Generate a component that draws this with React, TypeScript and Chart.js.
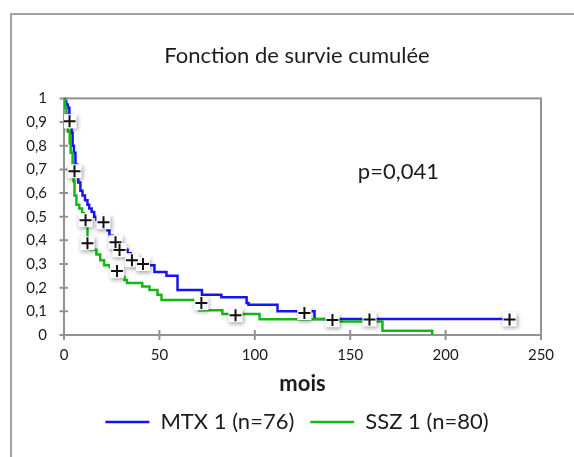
import React, { useEffect, useRef } from 'react';
import { Chart, registerables } from 'chart.js';

Chart.register(...registerables);

// ---- texts ----
const chartTitle = 'Fonction de survie cumulée';
const xAxisTitle = 'mois';
const pValueText = 'p=0,041';
const pValueX = 154;
const pValueY = 0.69;

// ---- ticks ----
const xTickValues = [0, 50, 100, 150, 200, 250];
const yTickValues = [0, 0.1, 0.2, 0.3, 0.4, 0.5, 0.6, 0.7, 0.8, 0.9, 1];
const yTickLabels = ['0', '0,1', '0,2', '0,3', '0,4', '0,5', '0,6', '0,7', '0,8', '0,9', '1'];

// ---- MTX 1 (n=76) ----
const mtxLabel = 'MTX 1 (n=76)';
const mtxTimes = [0, 0.5, 1.2, 2, 2.8, 3.2, 4, 4.5, 5.2, 6, 7, 7.5, 8.6, 9.7, 11, 12.3, 13.2, 14.5, 15.8, 17, 22, 22.8, 23.8, 25.5, 28, 30, 33.3, 35, 36, 39, 43, 47.4, 53.7, 59.5, 72.3, 82.5, 95.7, 96.7, 111.9, 131.3, 233.5];
const mtxSurvival = [1, 0.987, 0.974, 0.96, 0.92, 0.895, 0.855, 0.8, 0.77, 0.72, 0.68, 0.645, 0.61, 0.59, 0.57, 0.55, 0.535, 0.52, 0.5, 0.487, 0.46, 0.443, 0.42, 0.4, 0.38, 0.36, 0.345, 0.33, 0.318, 0.305, 0.295, 0.266, 0.25, 0.19, 0.17, 0.16, 0.135, 0.128, 0.1, 0.068, 0.068];
const mtxCensorTimes = [2.9, 20.7, 27, 29.1, 35.6, 41.4, 126, 160.1, 233.5];
const mtxCensorSurvival = [0.903, 0.477, 0.392, 0.359, 0.316, 0.3, 0.093, 0.066, 0.066];

// ---- SSZ 1 (n=80) ----
const sszLabel = 'SSZ 1 (n=80)';
const sszTimes = [0, 0.5, 1.3, 2, 3, 3.5, 4.5, 5, 5.5, 6.5, 8, 9.5, 10.5, 12.3, 14, 17, 19, 21, 24, 25, 30, 31.7, 33, 41, 44.8, 49, 51.1, 71, 83, 102.5, 141.8, 166.9, 193];
const sszSurvival = [1, 0.96, 0.9, 0.86, 0.81, 0.77, 0.71, 0.65, 0.59, 0.55, 0.535, 0.515, 0.49, 0.39, 0.36, 0.34, 0.316, 0.295, 0.287, 0.27, 0.245, 0.232, 0.22, 0.205, 0.19, 0.17, 0.148, 0.105, 0.089, 0.067, 0.057, 0.018, 0];
const sszCensorTimes = [5.5, 11.3, 12.3, 27.8, 72, 89.9, 140.7];
const sszCensorSurvival = [0.692, 0.485, 0.388, 0.27, 0.135, 0.084, 0.063];

const blue = '#1414f5';
const green = '#14b814';
const axisGray = '#929292';
const textColor = '#1c1c1c';
const fontFamily = 'Lato, "Open Sans", sans-serif';

const pts = (xs: number[], ys: number[]) => xs.map((x, i) => ({ x, y: ys[i] }));

const framePlugin = {
  id: 'kmFrame',
  beforeDatasetsDraw(chart: any) {
    const { ctx, chartArea } = chart;
    const xs = chart.scales.x;
    const ys = chart.scales.y;
    ctx.save();
    ctx.strokeStyle = axisGray;
    ctx.lineWidth = 2;
    ctx.strokeRect(chartArea.left, chartArea.top, chartArea.right - chartArea.left, chartArea.bottom - chartArea.top);
    ctx.beginPath();
    xs.ticks.forEach((t: any) => {
      const px = xs.getPixelForValue(t.value);
      ctx.moveTo(px, chartArea.bottom - 5);
      ctx.lineTo(px, chartArea.bottom + 5);
    });
    ys.ticks.forEach((t: any) => {
      const py = ys.getPixelForValue(t.value);
      ctx.moveTo(chartArea.left - 4.5, py);
      ctx.lineTo(chartArea.left + 4, py);
    });
    ctx.stroke();
    ctx.restore();
  },
  beforeDatasetDraw(chart: any, args: any) {
    if (args.index === 1) {
      const ctx = chart.ctx;
      ctx.save();
      ctx.shadowColor = 'rgba(0,0,0,0.35)';
      ctx.shadowBlur = 4;
      ctx.shadowOffsetX = 1;
      ctx.shadowOffsetY = 2;
    }
  },
  afterDatasetDraw(chart: any, args: any) {
    if (args.index === 1) chart.ctx.restore();
  },
  afterDatasetsDraw(chart: any) {
    const { ctx } = chart;
    ctx.save();
    ctx.fillStyle = textColor;
    ctx.font = `22px ${fontFamily}`;
    ctx.textAlign = 'left';
    ctx.textBaseline = 'middle';
    ctx.fillText(pValueText, chart.scales.x.getPixelForValue(pValueX), chart.scales.y.getPixelForValue(pValueY));
    ctx.restore();
  },
};

export default function App() {
  const ref = useRef<HTMLCanvasElement>(null);
  useEffect(() => {
    if (!ref.current) return;
    const censorAll = [
      ...pts(mtxCensorTimes, mtxCensorSurvival),
      ...pts(sszCensorTimes, sszCensorSurvival),
    ];
    const chart = new Chart(ref.current, {
      type: 'line',
      data: {
        datasets: [
          {
            label: 'censor',
            data: censorAll,
            showLine: false,
            pointStyle: 'cross',
            pointRadius: 6,
            pointBorderWidth: 2,
            pointBorderColor: '#111',
            pointBackgroundColor: '#111',
            borderColor: '#111',
          },
          {
            label: 'censorBg',
            data: censorAll,
            showLine: false,
            pointStyle: 'rect',
            pointRadius: 10,
            pointBorderWidth: 0,
            pointBackgroundColor: '#ffffff',
            pointBorderColor: '#ffffff',
          },
          {
            label: sszLabel,
            data: pts(sszTimes, sszSurvival),
            stepped: 'before',
            borderColor: green,
            backgroundColor: green,
            borderWidth: 2.5,
            pointRadius: 0,
            fill: false,
          },
          {
            label: mtxLabel,
            data: pts(mtxTimes, mtxSurvival),
            stepped: 'before',
            borderColor: blue,
            backgroundColor: blue,
            borderWidth: 2.5,
            pointRadius: 0,
            fill: false,
          },
        ],
      } as any,
      options: {
        responsive: false,
        animation: false,
        events: [],
        layout: { padding: { left: 20, right: 0, top: 0, bottom: 14 } },
        font: { family: fontFamily },
        plugins: {
          tooltip: { enabled: false },
          title: {
            display: true,
            text: chartTitle,
            color: textColor,
            font: { family: fontFamily, size: 22, weight: 'normal' },
            padding: { top: 43, bottom: 29 },
          },
          legend: {
            position: 'bottom',
            labels: {
              color: textColor,
              font: { family: fontFamily, size: 22 },
              boxWidth: 44,
              boxHeight: 0,
              padding: 16,
              filter: (item: any) => item.datasetIndex >= 2,
              sort: (a: any, b: any) => b.datasetIndex - a.datasetIndex,
            },
          },
        },
        scales: {
          x: {
            type: 'linear',
            min: 0,
            max: 250,
            afterBuildTicks: (s: any) => { s.ticks = xTickValues.map((v) => ({ value: v })); },
            afterFit: (s: any) => { s.height = 60; },
            grid: { display: false, drawTicks: false },
            border: { display: false },
            ticks: { color: textColor, font: { family: fontFamily, size: 15 }, padding: 11, maxRotation: 0 },
            title: {
              display: true,
              text: xAxisTitle,
              color: textColor,
              font: { family: fontFamily, size: 22, weight: 'bold', lineHeight: 1 },
              padding: { top: 0, bottom: 0 },
            },
          },
          y: {
            type: 'linear',
            min: 0,
            max: 1,
            afterBuildTicks: (s: any) => { s.ticks = yTickValues.map((v) => ({ value: v })); },
            afterFit: (s: any) => { s.width = 44; },
            grid: { display: false, drawTicks: false },
            border: { display: false },
            ticks: {
              color: textColor,
              font: { family: fontFamily, size: 15 },
              padding: 17,
              callback: (_v: any, i: number) => yTickLabels[i],
            },
          },
          yr: {
            type: 'linear',
            position: 'right',
            afterFit: (s: any) => { s.width = 33; },
            grid: { display: false, drawTicks: false },
            border: { display: false },
            ticks: { display: false },
          },
        },
      } as any,
      plugins: [framePlugin],
    });
    return () => chart.destroy();
  }, []);

  return (
    <div style={{ position: 'fixed', left: 0, top: 0, width: 574, height: 457, background: '#fff', overflow: 'hidden' }}>
      <div
        style={{
          position: 'absolute',
          left: 10,
          top: 13,
          width: 564,
          height: 444,
          boxSizing: 'border-box',
          borderLeft: '2px solid #a4a4a4',
          borderTop: '2px solid #a4a4a4',
        }}
      />
      <canvas ref={ref} width={574} height={457} style={{ position: 'absolute', left: 0, top: 0 }} />
    </div>
  );
}
